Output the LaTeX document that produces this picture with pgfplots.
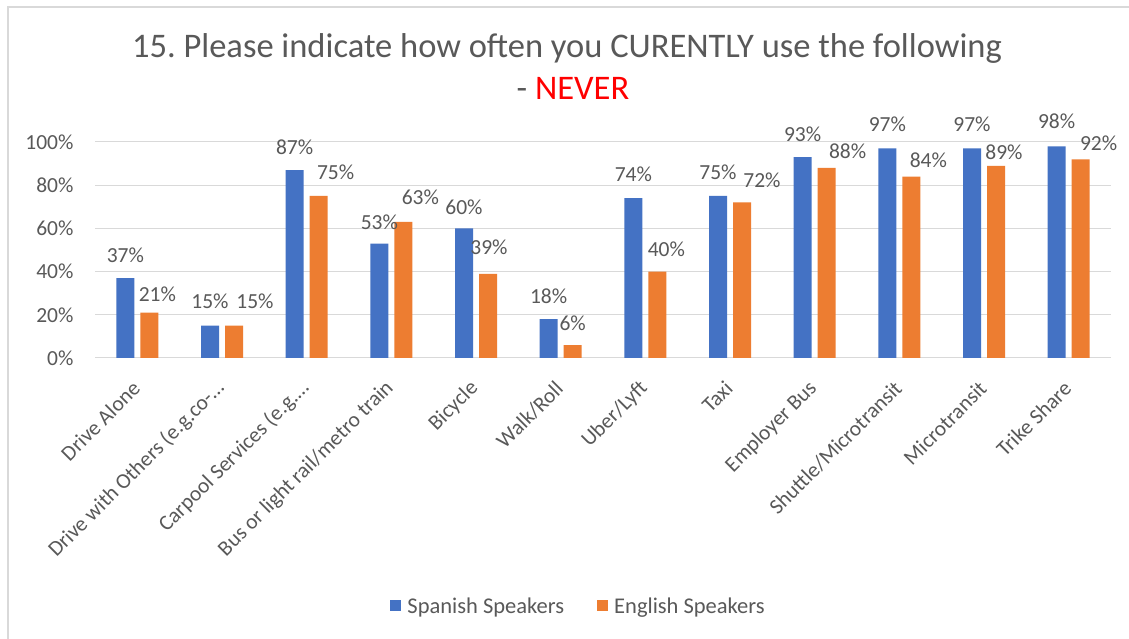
\documentclass[border=0pt]{standalone}
\usepackage{fontspec}
\setmainfont{Carlito}
\usepackage{pgfplots}
\usepackage{pgfplotstable}
\pgfplotsset{compat=1.18}
\definecolor{sblue}{HTML}{4472C4}
\definecolor{sorange}{HTML}{ED7D31}
\definecolor{txt}{HTML}{595959}
\definecolor{gridc}{HTML}{D9D9D9}

\pgfplotstableread{
x spanish sdy english edx edy
0 37 15 21 8 10.7
1 15 17 15 21 17
2 87 15 75 17 16
3 53 14 63 17 17
4 60 14 39 1 19
5 18 15 6 0 14
6 74 16.5 40 9 15
7 75 15.7 72 20 15
8 93 15 88 21 9.5
9 97 17 84 17 8.5
10 97 17 89 8 5.5
11 98 17 92 18 8
}\datatable

\begin{document}
\frenchspacing
\begin{tikzpicture}[x=1pt,y=1pt]
\path[use as bounding box] (0,0) rectangle (1129,639);
\fill[white] (0,0) rectangle (1129,639);
\draw[gridc, line width=2pt] (7.5,0) -- (7.5,631.5) -- (1129,631.5);
\node[text=txt, font=\fontsize{34.5}{40}\selectfont, anchor=base, inner sep=0pt] at (567,581.7) {15. Please indicate how often you CURENTLY use the following};
\node[font=\fontsize{34.5}{40}\selectfont, anchor=base, inner sep=0pt] at (573,539) {\textcolor{txt}{- }\textcolor{red}{NEVER}};
\begin{axis}[
  at={(95pt,281pt)}, anchor=south west,
  scale only axis, width=1016pt, height=216pt,
  ymin=0, ymax=100, xmin=-0.5, xmax=11.5,
  ybar=6pt, bar width=18pt,
  ytick={0,20,...,100},
  yticklabel={\pgfmathprintnumber{\tick}\%},
  /pgf/number format/assume math mode=true,
  ymajorgrids, grid style={gridc, line width=1pt},
  axis line style={draw=none},
  major tick length=0pt,
  xtick={0,...,11},
  xticklabels={Drive Alone, Drive with Others (e.g.co-…, Carpool Services (e.g.…, Bus or light rail/metro train, Bicycle, Walk/Roll, Uber/Lyft, Taxi, Employer Bus, Shuttle/Microtransit, Microtransit, Trike Share},
  x tick label style={xshift=-1pt, yshift=-27pt, rotate=45, anchor=east, inner sep=0pt, font=\fontsize{21.5}{25}\selectfont, text=txt},
  y tick label style={font=\fontsize{21.5}{24}\selectfont, text=txt, xshift=-18pt},
  clip=false,
  legend columns=2,
  legend style={draw=none, at={(0.476,-1.148)}, anchor=center, font=\fontsize{22.5}{26}\selectfont, text=txt,
    /tikz/every even column/.append style={column sep=31pt}},
  legend image code/.code={\fill[#1,draw=none] (0pt,-5.5pt) rectangle (11pt,5.5pt); \path (15pt,0pt);},
]
\addplot[fill=sblue, draw=none,
  nodes near coords={\pgfmathprintnumber{\pgfplotspointmeta}\%},
  visualization depends on={\thisrow{sdy} \as \sdy},
  every node near coord/.append style={font=\fontsize{21.5}{24}\selectfont, text=txt, inner sep=0pt, anchor=south, yshift=\sdy pt},
  ] table[x=x, y=spanish] {\datatable};
\addplot[fill=sorange, draw=none,
  nodes near coords={\pgfmathprintnumber{\pgfplotspointmeta}\%},
  visualization depends on={\thisrow{edx} \as \edx},
  visualization depends on={\thisrow{edy} \as \edy},
  every node near coord/.append style={font=\fontsize{21.5}{24}\selectfont, text=txt, inner sep=0pt, anchor=south, xshift=\edx pt, yshift=\edy pt},
  ] table[x=x, y=english] {\datatable};
\legend{Spanish Speakers, English Speakers}
\end{axis}
\end{tikzpicture}
\end{document}
